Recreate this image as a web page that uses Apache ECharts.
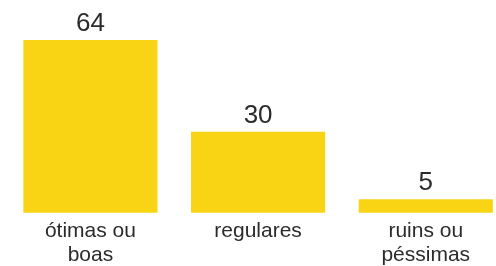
<!DOCTYPE html>
<html><head><meta charset="utf-8">
<script src="https://cdn.jsdelivr.net/npm/echarts@6/dist/echarts.min.js"></script>
<style>html,body{margin:0;padding:0;background:#fff}#c{width:496px;height:266px}</style>
</head><body><div id="c"></div>
<script>
const categories = ['ótimas ou\nboas', 'regulares', 'ruins ou\npéssimas'];
const values = [64, 30, 5];
const FONT = '"Liberation Sans Narrow", "Liberation Sans", sans-serif';
const chart = echarts.init(document.getElementById('c'));
chart.setOption({
  animation: false,
  grid: {left: 6.6, width: 503, top: 40, bottom: 53.3, containLabel: false, outerBoundsMode: 'none'},
  xAxis: {
    type: 'category', data: categories,
    axisLine: {show: false}, axisTick: {show: false},
    axisLabel: {color: '#2b2b2b', fontFamily: FONT, fontSize: 21, lineHeight: 24, margin: 7, interval: 0}
  },
  yAxis: {type: 'value', min: 0, max: 64, show: false, splitLine: {show: false}},
  series: [{
    type: 'bar', data: values, barWidth: '80%',
    itemStyle: {color: '#F8D415'},
    label: {show: true, position: 'top', distance: 3, color: '#2b2b2b', fontFamily: FONT, fontSize: 26}
  }]
});
</script></body></html>
